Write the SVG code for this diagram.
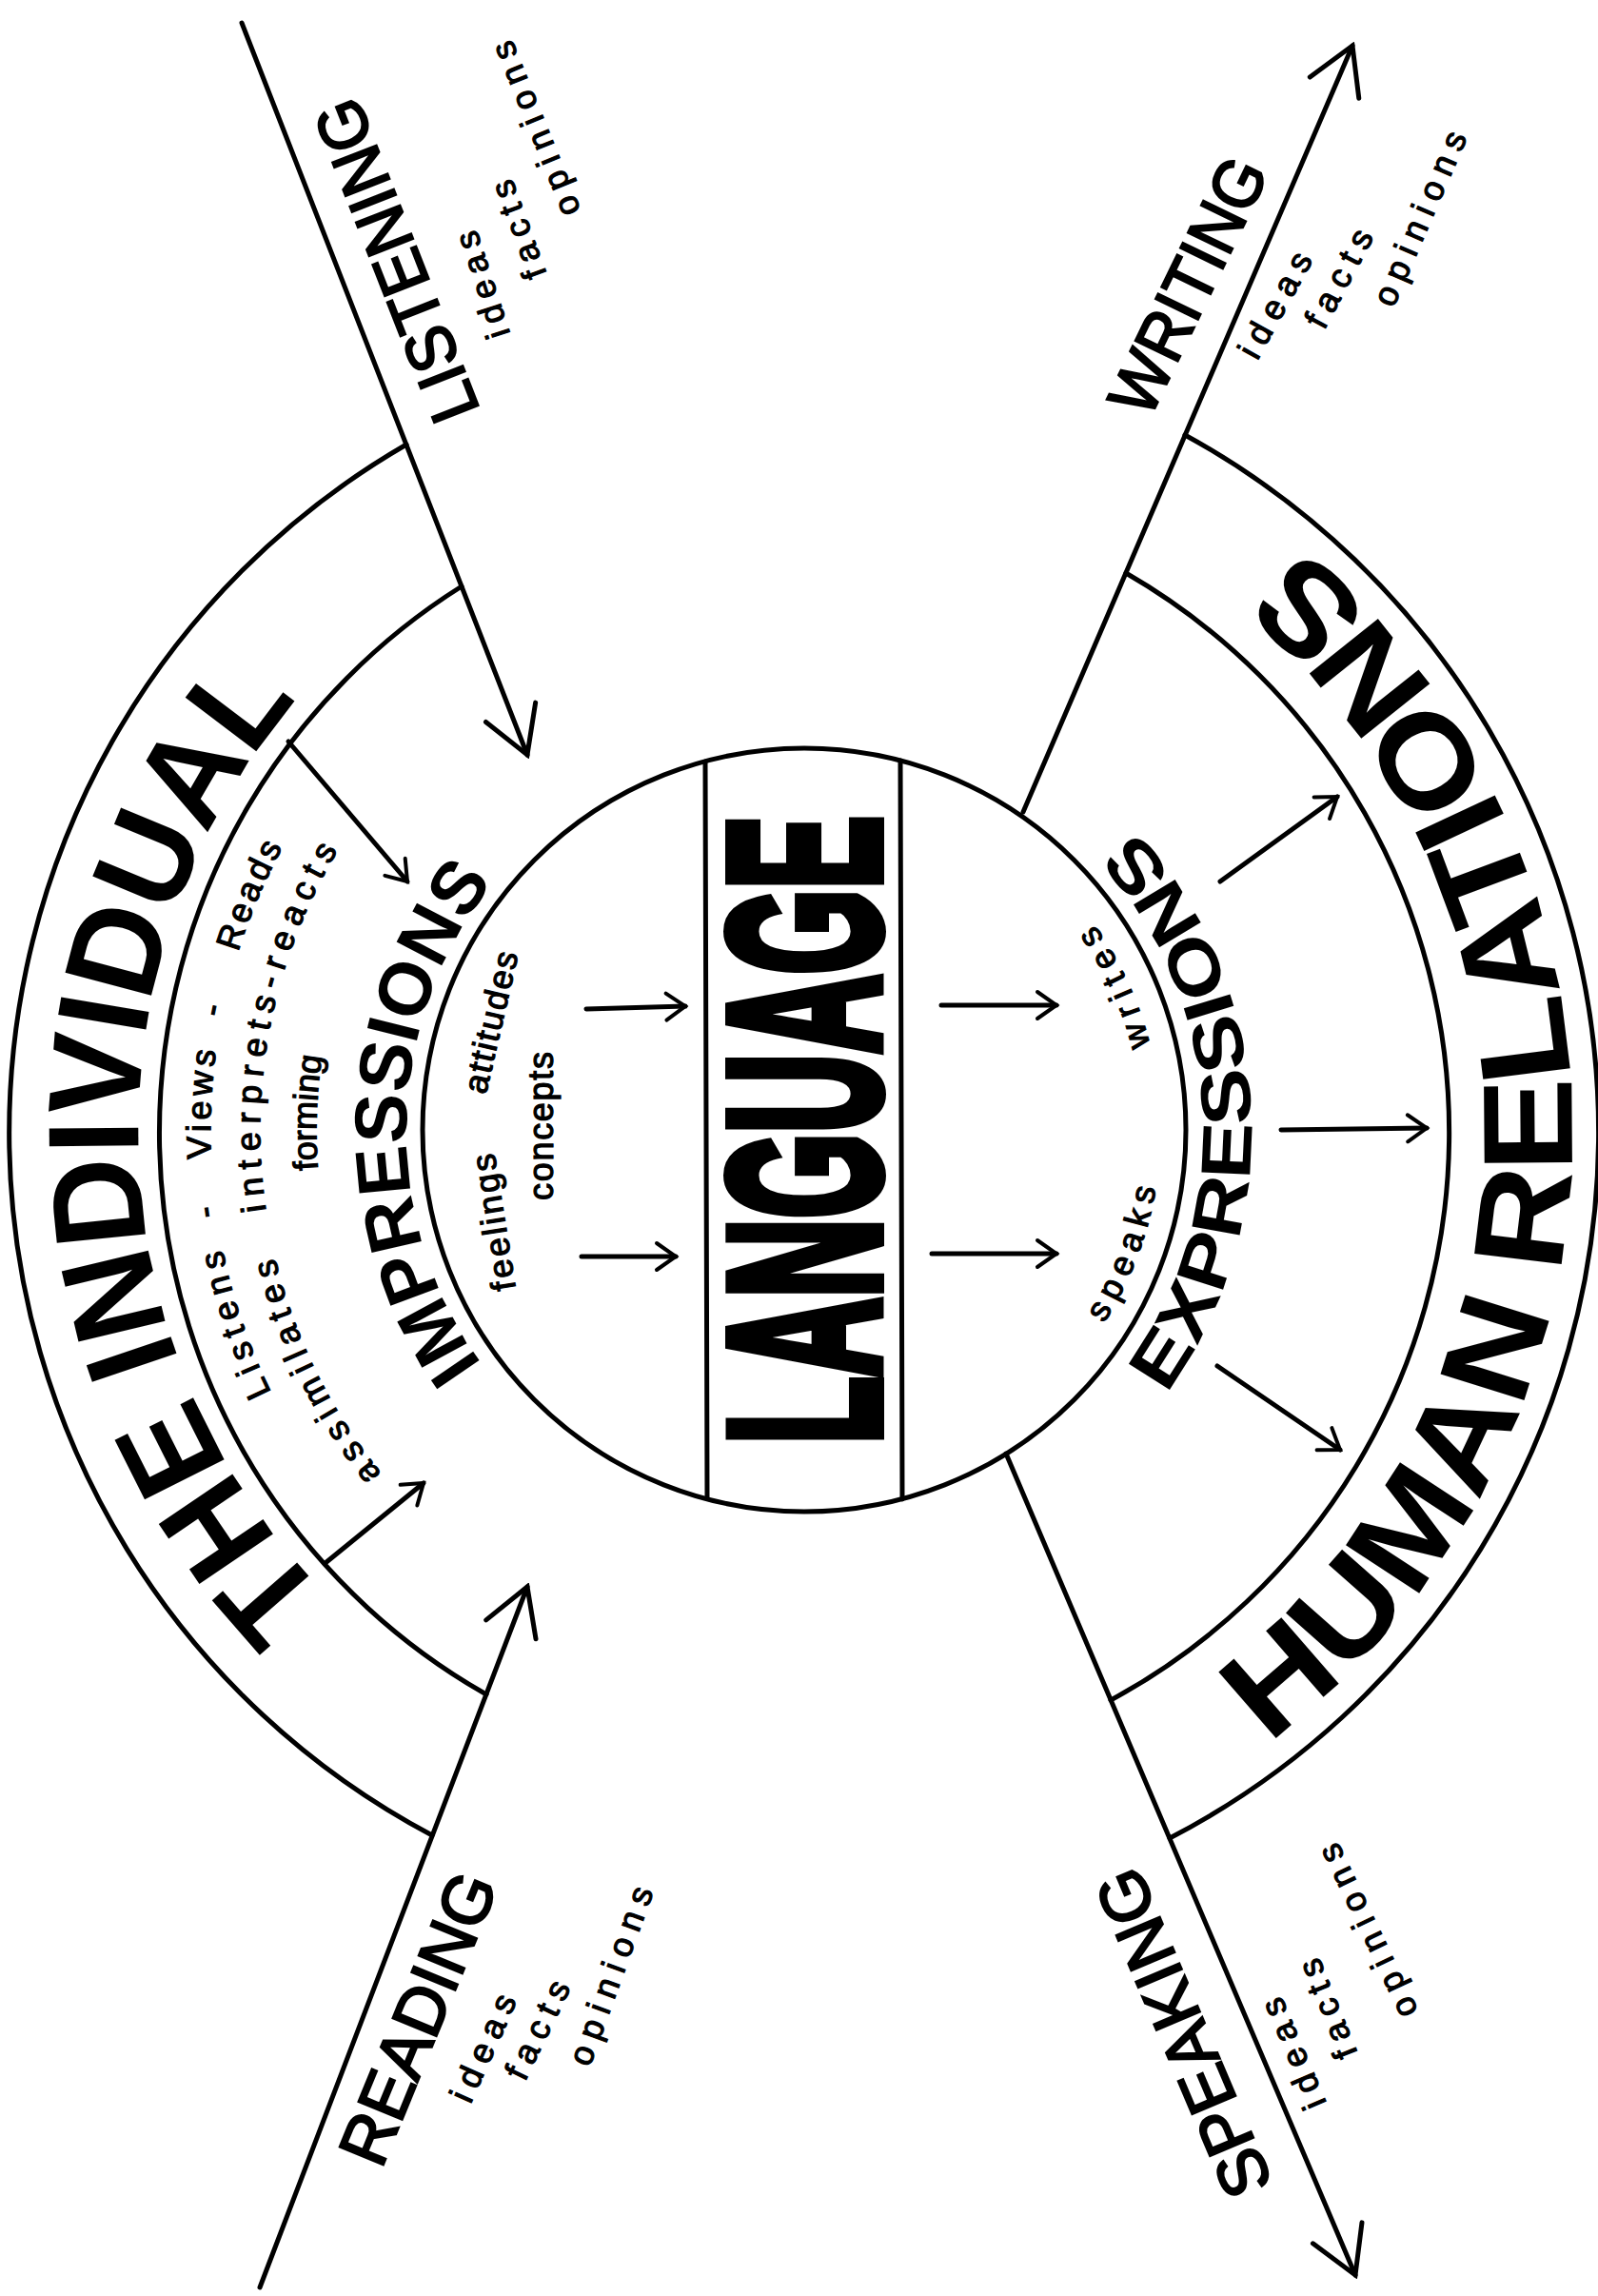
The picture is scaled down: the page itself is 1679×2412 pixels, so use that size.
<svg xmlns="http://www.w3.org/2000/svg" width="1679" height="2412" viewBox="0 0 1679 2412">
<style>
.ln{fill:none;stroke:#000;stroke-width:5;stroke-linecap:round;stroke-linejoin:round}
.t{font-family:'Liberation Sans',Arial,Helvetica,sans-serif;fill:#000}
.big{font-weight:bold}
.mid{text-anchor:middle}
.lab{font-size:72px;stroke:#000;stroke-width:2.4}
.sm{font-size:36px;stroke:#000;stroke-width:1.2}
.hd{fill:none;stroke:#000;stroke-width:5;stroke-linecap:round;stroke-linejoin:miter}
</style>
<defs>
<marker id="bigHead" viewBox="0 0 56 64" refX="52" refY="32" markerWidth="56" markerHeight="64" markerUnits="userSpaceOnUse" orient="auto">
<path class="hd" d="M4,4 L52,32 L4,60"/>
</marker>
<marker id="smallHead" viewBox="0 0 28 36" refX="24" refY="18" markerWidth="28" markerHeight="36" markerUnits="userSpaceOnUse" orient="auto">
<path class="hd" d="M4,4 L24,18 L4,32" style="stroke-width:4"/>
</marker>
<path id="pInd" d="M784,1885.3 A700,700 0 0 1 784,490.7"/>
<path id="pImp" d="M808.6,1604.4 A418,418 0 0 1 808.6,771.6"/>
<path id="pLis" d="M790.6,1809.6 A624,624 0 0 1 790.6,566.4"/>
<path id="pAss" d="M795.1,1757.8 A572,572 0 0 1 795.1,618.2"/>
<path id="pFor" d="M800.4,1698.1 A512,512 0 0 1 800.4,677.9"/>
<path id="pHum" d="M915.3,1991.9 A807,807 0 0 0 915.3,384.1"/>
<path id="pExp" d="M886,1656.2 A470,470 0 0 0 886,719.8"/>
<path id="pWri" d="M877.6,1560.6 A374,374 0 0 0 877.6,815.4"/>
</defs>
<rect width="1679" height="2412" fill="#fff"/>

<g id="language">
<circle class="ln" cx="845" cy="1187" r="401"/>
<path class="ln" d="M741,800 L743,1574 M946,799 L948,1575"/>
<text class="t big mid" transform="translate(923,1187) rotate(-90)" font-size="224" textLength="660" lengthAdjust="spacingAndGlyphs" stroke="#000" stroke-width="12" stroke-linejoin="miter">LANGUAGE</text>
</g>

<g id="the-individual">
<path class="ln" d="M427,467 A835,835 0 0 0 454,1928"/>
<path class="ln" d="M485,616 A678,678 0 0 0 511,1780"/>
<text class="t big mid" font-size="136"><textPath href="#pInd" startOffset="1014" textLength="1036" lengthAdjust="spacingAndGlyphs">THE INDIVIDUAL</textPath></text>
<g class="t sm mid">
<text><textPath href="#pLis" startOffset="720" textLength="159" lengthAdjust="spacing">Listens</textPath></text>
<text><textPath href="#pLis" startOffset="841">-</textPath></text>
<text><textPath href="#pLis" startOffset="953" textLength="114" lengthAdjust="spacing">Views</textPath></text>
<text><textPath href="#pLis" startOffset="1051">-</textPath></text>
<text><textPath href="#pLis" startOffset="1176" textLength="120" lengthAdjust="spacing">Reads</textPath></text>
<text><textPath href="#pAss" startOffset="586" textLength="255" lengthAdjust="spacing">assimilates</textPath></text>
<text><textPath href="#pAss" startOffset="961" textLength="394" lengthAdjust="spacing">interprets-reacts</textPath></text>
<text><textPath href="#pFor" startOffset="779" textLength="120" lengthAdjust="spacing">forming</textPath></text>
</g>
</g>

<g id="impressions">
<text class="t big mid" font-size="78"><textPath href="#pImp" startOffset="630" textLength="544" lengthAdjust="spacingAndGlyphs">IMPRESSIONS</textPath></text>
<g class="t sm mid">
<text transform="translate(520,1284) rotate(-99)" dy="0.3em" textLength="145" lengthAdjust="spacing">feelings</text>
<text transform="translate(517,1074) rotate(-77)" dy="0.3em" textLength="152" lengthAdjust="spacing">attitudes</text>
<text transform="translate(570,1183) rotate(-90)" dy="0.3em" textLength="156" lengthAdjust="spacing">concepts</text>
</g>
</g>

<g id="expressions">
<text class="t big mid" font-size="74"><textPath href="#pExp" startOffset="722" textLength="641" lengthAdjust="spacingAndGlyphs">EXPRESSIONS</textPath></text>
<g class="t sm mid">
<text><textPath href="#pWri" startOffset="716" textLength="140" lengthAdjust="spacing">writes</textPath></text>
<text><textPath href="#pWri" startOffset="418" textLength="153" lengthAdjust="spacing">speaks</textPath></text>
</g>
</g>

<g id="human-relations">
<path class="ln" d="M1245,457 A835,835 0 0 1 1229,1931"/>
<path class="ln" d="M1183,602 A678,678 0 0 1 1167,1786"/>
<text class="t big mid" font-size="134"><textPath href="#pHum" startOffset="1173" textLength="1441" lengthAdjust="spacingAndGlyphs">HUMAN RELATIONS</textPath></text>
</g>

<g id="listening">
<text class="t lab mid" transform="translate(416,274) rotate(-111.4)" dy="0.35em" textLength="357" lengthAdjust="spacingAndGlyphs">LISTENING</text>
<g class="t sm mid">
<text transform="translate(508,299) rotate(-108)" dy="0.3em" textLength="116" lengthAdjust="spacing">ideas</text>
<text transform="translate(546,241) rotate(-110)" dy="0.3em" textLength="108" lengthAdjust="spacing">facts</text>
<text transform="translate(564,135) rotate(-112)" dy="0.3em" textLength="195" lengthAdjust="spacing">opinions</text>
</g>
</g>

<g id="writing">
<text class="t lab mid" transform="translate(1248,300) rotate(-64.1)" dy="0.35em" textLength="290" lengthAdjust="spacingAndGlyphs">WRITING</text>
<g class="t sm mid">
<text transform="translate(1341,321) rotate(-61)" dy="0.3em" textLength="122" lengthAdjust="spacing">ideas</text>
<text transform="translate(1408,293) rotate(-62)" dy="0.3em" textLength="112" lengthAdjust="spacing">facts</text>
<text transform="translate(1493,230) rotate(-66.6)" dy="0.3em" textLength="196" lengthAdjust="spacing">opinions</text>
</g>
</g>

<g id="reading">
<text class="t lab mid" transform="translate(439,2120) rotate(-67.6)" dy="0.35em" textLength="324" lengthAdjust="spacingAndGlyphs">READING</text>
<g class="t sm mid">
<text transform="translate(509,2152) rotate(-65.8)" dy="0.3em" textLength="120" lengthAdjust="spacing">ideas</text>
<text transform="translate(566,2133) rotate(-64)" dy="0.3em" textLength="111" lengthAdjust="spacing">facts</text>
<text transform="translate(643,2076) rotate(-70)" dy="0.3em" textLength="197" lengthAdjust="spacing">opinions</text>
</g>
</g>

<g id="speaking">
<text class="t lab mid" transform="translate(1243,2136) rotate(-113)" dy="0.35em" textLength="367" lengthAdjust="spacingAndGlyphs">SPEAKING</text>
<g class="t sm mid">
<text transform="translate(1360,2157) rotate(-113)" dy="0.3em" textLength="123" lengthAdjust="spacing">ideas</text>
<text transform="translate(1396,2110) rotate(-112)" dy="0.3em" textLength="110" lengthAdjust="spacing">facts</text>
<text transform="translate(1438,2028) rotate(-115.5)" dy="0.3em" textLength="198" lengthAdjust="spacing">opinions</text>
</g>
</g>

<g id="connectors">
<path class="ln" d="M254,24 L554,793" marker-end="url(#bigHead)"/>
<path class="ln" d="M1075,853 L1421,48" marker-end="url(#bigHead)"/>
<path class="ln" d="M273,2403 L554,1667" marker-end="url(#bigHead)"/>
<path class="ln" d="M1057,1527 L1424,2390" marker-end="url(#bigHead)"/>
<path class="ln" d="M303,779 L428,926" marker-end="url(#smallHead)"/>
<path class="ln" d="M343,1641 L445,1558" marker-end="url(#smallHead)"/>
<path class="ln" d="M1282,926 L1405,837" marker-end="url(#smallHead)"/>
<path class="ln" d="M1346,1187 L1499,1185" marker-end="url(#smallHead)"/>
<path class="ln" d="M1279,1435 L1408,1523" marker-end="url(#smallHead)"/>
<path class="ln" d="M616,1060 L720,1057" marker-end="url(#smallHead)"/>
<path class="ln" d="M611,1320 L710,1320" marker-end="url(#smallHead)"/>
<path class="ln" d="M989,1056 L1110,1056" marker-end="url(#smallHead)"/>
<path class="ln" d="M979,1317 L1110,1317" marker-end="url(#smallHead)"/>
</g>
</svg>
